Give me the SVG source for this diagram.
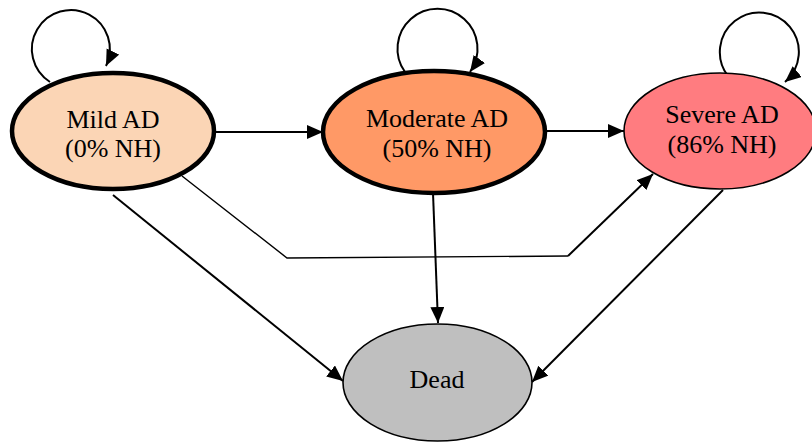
<svg xmlns="http://www.w3.org/2000/svg" width="812" height="442" viewBox="0 0 812 442">
  <style>
    .lbl { font-family: "Liberation Serif", "Times New Roman", serif; font-size: 26px; fill: #000; text-anchor: middle; }
    .edge { fill: none; stroke: #000; stroke-width: 2; }
    .thin { fill: none; stroke: #000; stroke-width: 1.4; }
    .bold { stroke: #000; stroke-width: 4.5; }
    .plain { stroke: #000; stroke-width: 1.6; }
  </style>
  <defs>
    <marker id="arrow" markerUnits="userSpaceOnUse" markerWidth="17" markerHeight="15" refX="16" refY="7" orient="auto">
      <path d="M0,0 L16,7 L0,14 z" fill="#000"/>
    </marker>
  </defs>

  <!-- transitions -->
  <g id="connectors">
    <!-- self loops -->
    <path class="edge" d="M50,82 A39,39 0 1 1 106,66" marker-end="url(#arrow)"/>
    <path class="edge" d="M405,72 A40,40 0 1 1 470,72" marker-end="url(#arrow)"/>
    <path class="edge" d="M728,76 A39.5,39.5 0 1 1 785,82" marker-end="url(#arrow)"/>
    <!-- progression -->
    <path class="edge" d="M214,132 L323,132" marker-end="url(#arrow)"/>
    <path class="edge" d="M545,131 L624,131" marker-end="url(#arrow)"/>
    <!-- mild skipping straight to severe -->
    <path class="thin" d="M182,176 L287,258 L568,256"/>
    <path class="edge" d="M568,256 L653,174" marker-end="url(#arrow)"/>
    <!-- deaths -->
    <path class="edge" d="M113,195 L343,381" marker-end="url(#arrow)"/>
    <path class="edge" d="M433,193 L438,323" marker-end="url(#arrow)"/>
    <path class="edge" d="M723,190 L532,382" marker-end="url(#arrow)"/>
  </g>

  <g id="mild">
    <ellipse class="bold" cx="113" cy="131" rx="101" ry="58" fill="#FBD5B5"/>
    <text class="lbl" x="113" y="128">Mild AD</text>
    <text class="lbl" x="113" y="157">(0% NH)</text>
  </g>

  <g id="moderate">
    <ellipse class="bold" cx="434" cy="132" rx="111" ry="61" fill="#FF9966"/>
    <text class="lbl" x="437" y="127">Moderate AD</text>
    <text class="lbl" x="437" y="157">(50% NH)</text>
  </g>

  <g id="severe">
    <ellipse class="plain" cx="720" cy="131" rx="96" ry="58" fill="#FF7C80"/>
    <text class="lbl" x="722" y="123">Severe AD</text>
    <text class="lbl" x="722" y="153">(86% NH)</text>
  </g>

  <g id="dead">
    <ellipse class="plain" cx="437.5" cy="382.5" rx="94.5" ry="58.5" fill="#BFBFBF"/>
    <text class="lbl" x="437" y="388">Dead</text>
  </g>
</svg>
